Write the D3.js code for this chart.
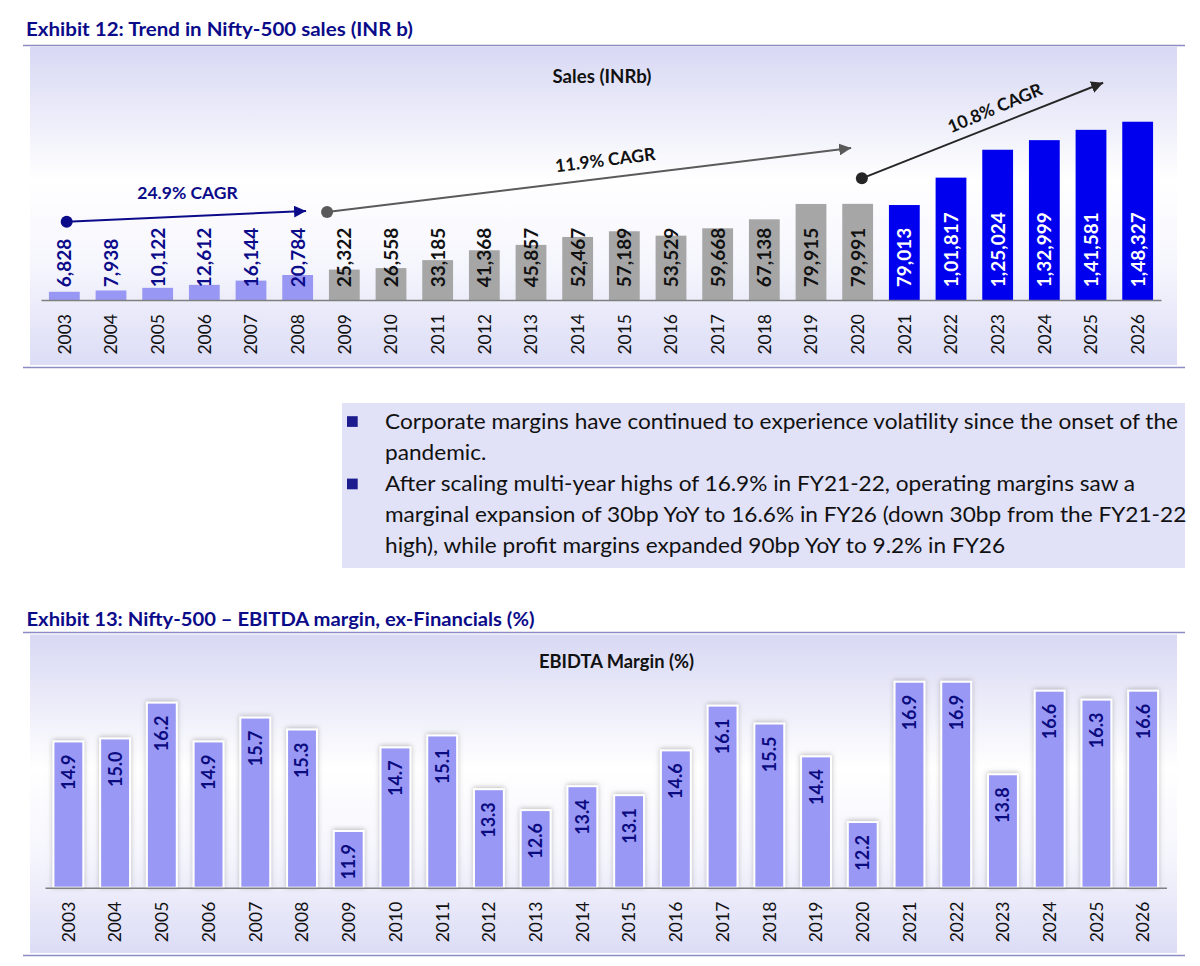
<!DOCTYPE html>
<html><head><meta charset="utf-8">
<script src="https://cdn.jsdelivr.net/npm/d3@7"></script>
<style>
body{margin:0;background:#fff;}
svg{display:block;font-family:Lato,"Open Sans",sans-serif;}
</style>
</head><body>
<svg id="c" width="1200" height="966"></svg>
<script>
// ---------------- DATA ----------------
const years = ["2003","2004","2005","2006","2007","2008","2009","2010","2011","2012","2013","2014","2015","2016","2017","2018","2019","2020","2021","2022","2023","2024","2025","2026"];
const sales = [6828,7938,10122,12612,16144,20784,25322,26558,33185,41368,45857,52467,57189,53529,59668,67138,79915,79991,79013,101817,125024,132999,141581,148327];
const salesLabels = ["6,828","7,938","10,122","12,612","16,144","20,784","25,322","26,558","33,185","41,368","45,857","52,467","57,189","53,529","59,668","67,138","79,915","79,991","79,013","1,01,817","1,25,024","1,32,999","1,41,581","1,48,327"];
const salesPeriod = ["a","a","a","a","a","a","b","b","b","b","b","b","b","b","b","b","b","b","c","c","c","c","c","c"];
const margins = [14.9,15.0,16.2,14.9,15.7,15.3,11.9,14.7,15.1,13.3,12.6,13.4,13.1,14.6,16.1,15.5,14.4,12.2,16.9,16.9,13.8,16.6,16.3,16.6];
const cagrLabels = ["24.9% CAGR","11.9% CAGR","10.8% CAGR"];
// annotation anchors in data space: [bar index, sales value]
const cagrFrom = [[0.05,65135],[5.63,73205],[17.09,101240]];
const cagrTo   = [[5.18,74037],[16.86,126446],[22.26,180767]];
const cagrText = [[2.64,89010],[11.59,116463],[19.94,159720]];
const cagrAngle = [0,-7,-23];
const bulletLines = [
  {bullet:true,  text:"Corporate margins have continued to experience volatility since the onset of the"},
  {bullet:false, text:"pandemic."},
  {bullet:true,  text:"After scaling multi-year highs of 16.9% in FY21-22, operating margins saw a"},
  {bullet:false, text:"marginal expansion of 30bp YoY to 16.6% in FY26 (down 30bp from the FY21-22"},
  {bullet:false, text:"high), while profit margins expanded 90bp YoY to 9.2% in FY26"}
];

// ---------------- STYLE ----------------
const NAVY = "#0b0b8a";
const RULE = "#8c8cc4";
const barColors = {a:"#9898f4", b:"#a6a6a6", c:"#0000ee"};
const labelColors = {a:"#0b0b8a", b:"#111111", c:"#ffffff"};
const arrowColors = [NAVY, "#5a5a5a", "#262626"];
const cagrTextColors = [NAVY, "#111111", "#111111"];

const svg = d3.select("#c");
const defs = svg.append("defs");

function panelGrad(id){
  const g = defs.append("linearGradient").attr("id",id).attr("x1",0).attr("y1",0).attr("x2",0).attr("y2",1);
  [[0,"#d8d8f4"],[0.42,"#ffffff"],[0.7,"#f5f5fd"],[1,"#dcdcf6"]].forEach(s=>
    g.append("stop").attr("offset",s[0]).attr("stop-color",s[1]));
}
panelGrad("pg1"); panelGrad("pg2");

const f = defs.append("filter").attr("id","sh").attr("x","-40%").attr("y","-10%").attr("width","180%").attr("height","120%");
f.append("feDropShadow").attr("dx",0).attr("dy",-1).attr("stdDeviation",2.6)
  .attr("flood-color","#8a8a8a").attr("flood-opacity",0.55);

arrowColors.forEach((c,i)=>{
  defs.append("marker").attr("id","ah"+i).attr("markerUnits","userSpaceOnUse")
    .attr("markerWidth",13).attr("markerHeight",12).attr("refX",12).attr("refY",6)
    .attr("orient","auto")
    .append("path").attr("d","M0,0 L12,6 L0,12 Z").attr("fill",c);
});

function exhibitTitle(text, x, y, w){
  svg.append("text").attr("x",x).attr("y",y).attr("fill",NAVY)
    .attr("font-size",19.5).attr("font-weight",700)
    .attr("textLength",w).attr("lengthAdjust","spacingAndGlyphs").text(text);
}
function rule(y){
  svg.append("line").attr("x1",23).attr("x2",1185).attr("y1",y).attr("y2",y)
    .attr("stroke",RULE).attr("stroke-width",1.6);
}

// ================= EXHIBIT 12 =================
exhibitTitle("Exhibit 12: Trend in Nifty-500 sales (INR b)", 26, 35.5, 387);
rule(45.5);
svg.append("rect").attr("x",30).attr("y",47).attr("width",1147).attr("height",318).attr("fill","url(#pg1)");
rule(367.5);

svg.append("text").attr("x",602).attr("y",83).attr("text-anchor","middle")
  .attr("font-size",18).attr("font-weight",700).attr("fill","#111")
  .attr("textLength",99).attr("lengthAdjust","spacingAndGlyphs").text("Sales (INRb)");

const x1 = d3.scaleBand().domain(years).range([41,1161]).paddingInner(0.34).paddingOuter(0.17);
const y1 = d3.scaleLinear().domain([0,160000]).range([300,107.7]);
const bw1 = x1.bandwidth();
const g1 = svg.append("g");

g1.selectAll("rect.bar").data(years).join("rect").attr("class","bar")
  .attr("x",d=>x1(d)).attr("width",bw1)
  .attr("y",(d,i)=>y1(sales[i])).attr("height",(d,i)=>y1(0)-y1(sales[i]))
  .attr("fill",(d,i)=>barColors[salesPeriod[i]]);

// x axis
const ax1 = g1.append("g").attr("transform",`translate(0,${y1(0)})`)
  .call(d3.axisBottom(x1).tickSize(0).tickPadding(0));
ax1.select(".domain").attr("stroke","#808080").attr("stroke-width",1.6);
ax1.selectAll(".tick text").attr("font-size",17.5).attr("fill","#111")
  .attr("font-family","Lato,'Open Sans',sans-serif")
  .attr("text-anchor","end").attr("dy","0.36em").attr("x",0).attr("y",0)
  .attr("transform","translate(0,14) rotate(-90)");

g1.selectAll("text.val").data(years).join("text").attr("class","val")
  .attr("transform",d=>`translate(${x1(d)+bw1/2},${y1(0)-12.7}) rotate(-90)`)
  .attr("dy","0.36em").attr("text-anchor","start")
  .attr("font-size",19).attr("font-weight",700)
  .attr("fill",(d,i)=>labelColors[salesPeriod[i]])
  .text((d,i)=>salesLabels[i]);

// CAGR annotations
const xi = d3.scaleLinear().domain([0,years.length-1])
  .range([x1(years[0])+bw1/2, x1(years[years.length-1])+bw1/2]);
cagrLabels.forEach((lab,i)=>{
  const a = cagrFrom[i], b = cagrTo[i], t = cagrText[i];
  g1.append("line").attr("x1",xi(a[0])).attr("y1",y1(a[1]))
    .attr("x2",xi(b[0])).attr("y2",y1(b[1]))
    .attr("stroke",arrowColors[i]).attr("stroke-width",2).attr("marker-end",`url(#ah${i})`);
  g1.append("circle").attr("cx",xi(a[0])).attr("cy",y1(a[1])).attr("r",6).attr("fill",arrowColors[i]);
  g1.append("text").attr("transform",`translate(${xi(t[0])},${y1(t[1])}) rotate(${cagrAngle[i]})`)
    .attr("text-anchor","middle").attr("dy","0.35em")
    .attr("font-size",17.5).attr("font-weight",700).attr("fill",cagrTextColors[i]).text(lab);
});

// ================= TEXT BOX =================
const boxX = 342, boxY = 403, boxW = 843, boxH = 165;
svg.append("rect").attr("x",boxX).attr("y",boxY).attr("width",boxW).attr("height",boxH).attr("fill","#e1e1f8");
const lineH = 31.2, firstBase = 428.5, textX = 385;
const tb = svg.append("g");
bulletLines.forEach((l,i)=>{
  const yb = firstBase + i*lineH;
  if(l.bullet) tb.append("rect").attr("x",347).attr("y",yb-12.3).attr("width",10.7).attr("height",10.7).attr("fill","#1c1c8e");
  tb.append("text").attr("x",textX).attr("y",yb).attr("font-size",20.5).attr("fill","#111").text(l.text);
});
// fit line widths to reference (Calibri is narrower than Lato)
const texts = tb.selectAll("text").nodes();
const w0 = texts[0].getComputedTextLength();
const ratio = 793 / w0;
texts.forEach(n=>{
  const w = n.getComputedTextLength();
  d3.select(n).attr("textLength", w*ratio).attr("lengthAdjust","spacingAndGlyphs");
});

// ================= EXHIBIT 13 =================
exhibitTitle("Exhibit 13: Nifty-500 \u2013 EBITDA margin, ex-Financials (%)", 26.5, 625.5, 508);
rule(632.5);
svg.append("rect").attr("x",30).attr("y",634.5).attr("width",1147).attr("height",318.5).attr("fill","url(#pg2)");
rule(955.5);

svg.append("text").attr("x",616.5).attr("y",667.5).attr("text-anchor","middle")
  .attr("font-size",18).attr("font-weight",700).attr("fill","#111")
  .attr("textLength",155).attr("lengthAdjust","spacingAndGlyphs").text("EBIDTA Margin (%)");

const x2 = d3.scaleBand().domain(years).range([45,1166.5]).paddingInner(0.36).paddingOuter(0.18);
const y2 = d3.scaleLinear().domain([10,18]).range([887.7,648.9]);
const bw2 = x2.bandwidth();
const g2 = svg.append("g");

g2.selectAll("rect.bar").data(years).join("rect").attr("class","bar")
  .attr("x",d=>x2(d)).attr("width",bw2)
  .attr("y",(d,i)=>y2(margins[i])).attr("height",(d,i)=>y2(10)-y2(margins[i]))
  .attr("fill","#9999f5").attr("stroke","#ffffff").attr("stroke-width",2)
  .attr("filter","url(#sh)");

const ax2 = g2.append("g").attr("transform",`translate(0,${y2(10)})`)
  .call(d3.axisBottom(x2).tickSize(0).tickPadding(0));
ax2.select(".domain").attr("stroke","#808080").attr("stroke-width",1.6);
ax2.selectAll(".tick text").attr("font-size",17.5).attr("fill","#111")
  .attr("font-family","Lato,'Open Sans',sans-serif")
  .attr("text-anchor","end").attr("dy","0.36em").attr("x",0).attr("y",0)
  .attr("transform","translate(0,14) rotate(-90)");

g2.selectAll("text.val").data(years).join("text").attr("class","val")
  .attr("transform",(d,i)=>`translate(${x2(d)+bw2/2},${y2(margins[i])+13}) rotate(-90)`)
  .attr("dy","0.36em").attr("text-anchor","end")
  .attr("font-size",18).attr("font-weight",700).attr("fill","#0b0b80")
  .text((d,i)=>margins[i].toFixed(1));
</script>
</body></html>
